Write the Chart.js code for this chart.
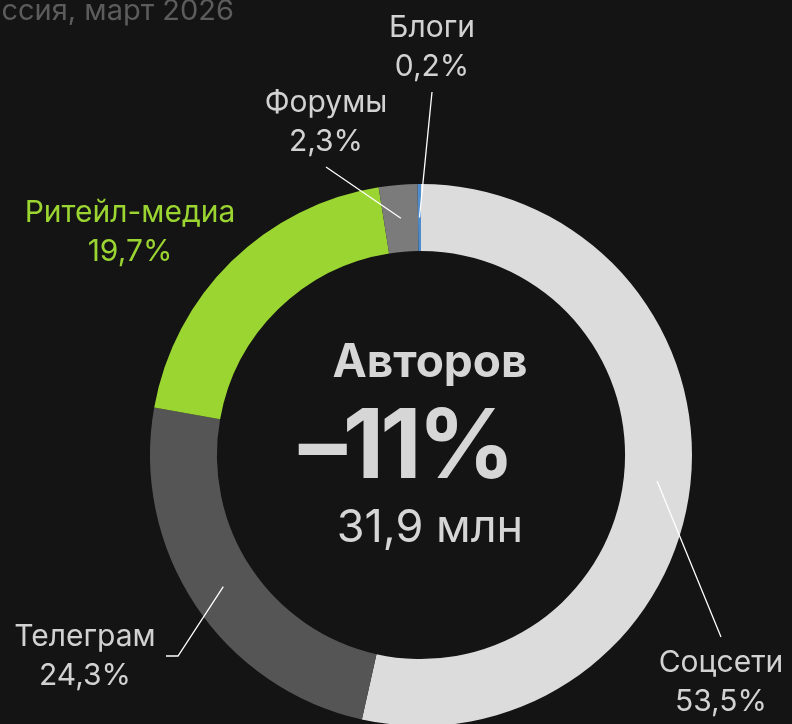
<!DOCTYPE html>
<html>
<head>
<meta charset="utf-8">
<script src="https://cdn.jsdelivr.net/npm/chart.js@4.4.1/dist/chart.umd.min.js"></script>
<style>
    html, body { margin: 0; padding: 0; background: #141414; overflow: hidden; }
    #wrap { width: 792px; height: 724px; overflow: hidden; position: relative; }
    canvas { display: block; }
</style>
</head>
<body>
<div id="wrap"><canvas id="authors" width="792" height="740"></canvas></div>
<script>
// Data
const categories = ['Соцсети', 'Телеграм', 'Ритейл-медиа', 'Форумы', 'Блоги'];
const shares = [53.5, 24.3, 19.7, 2.3, 0.2];
const shareLabels = ['53,5%', '24,3%', '19,7%', '2,3%', '0,2%'];
const sliceColors = ['#dcdcdc', '#555555', '#9bd531', '#7b7b7b', '#4e8ccb'];

const centerTitle = 'Авторов';
const centerChange = '–11%';
const centerTotal = '31,9 млн';
const subtitle = 'Россия, март 2026';

// Label placement (layout only): text centre and leader path after the slice anchor
const labelLayout = [
    { x: 721, y: 663, color: '#d2d2d2', path: [[721, 637]] },
    { x: 85, y: 637, color: '#d2d2d2', path: [[178, 656], [166, 656]] },
    { x: 130, y: 213, color: '#9bd531', path: null },
    { x: 326, y: 103, color: '#d2d2d2', path: [[326, 167]] },
    { x: 432, y: 28, color: '#d2d2d2', path: [[432, 92]] },
];

const FONT = 'Inter, "Noto Sans", sans-serif';

const annotations = {
    id: 'annotations',
    afterDraw(chart) {
        const ctx = chart.ctx;
        const arcs = chart.getDatasetMeta(0).data;
        ctx.save();

        // subtitle, clipped at the left edge
        ctx.fillStyle = '#5c5c5c';
        ctx.font = '29px ' + FONT;
        ctx.textAlign = 'right';
        ctx.textBaseline = 'alphabetic';
        ctx.fillText(subtitle, 234, 20);

        // leader lines
        ctx.strokeStyle = '#ffffff';
        ctx.lineWidth = 1.3;
        arcs.forEach((arc, i) => {
            const lay = labelLayout[i];
            if (!lay.path) return;
            const mid = (arc.startAngle + arc.endAngle) / 2;
            const r = (arc.innerRadius + arc.outerRadius) / 2;
            ctx.beginPath();
            ctx.moveTo(arc.x + Math.cos(mid) * r, arc.y + Math.sin(mid) * r);
            lay.path.forEach(p => ctx.lineTo(p[0], p[1]));
            ctx.stroke();
        });

        // slice labels
        ctx.textAlign = 'center';
        ctx.textBaseline = 'middle';
        ctx.font = '30px ' + FONT;
        categories.forEach((name, i) => {
            const lay = labelLayout[i];
            ctx.fillStyle = lay.color;
            ctx.fillText(name, lay.x, lay.y);
            ctx.fillText(shareLabels[i], lay.x, lay.y + 39);
        });

        // centre text
        ctx.fillStyle = '#d6d6d6';
        ctx.font = 'bold 46px ' + FONT;
        ctx.fillText(centerTitle, 430, 363);
        ctx.font = 'bold 96px ' + FONT;
        ctx.letterSpacing = '-4px';
        ctx.fillText(centerChange, 405, 449);
        ctx.letterSpacing = '0px';
        ctx.font = '45px ' + FONT;
        ctx.fillText(centerTotal, 430, 528);

        ctx.restore();
    }
};

new Chart(document.getElementById('authors'), {
    type: 'doughnut',
    data: {
        labels: categories,
        datasets: [{
            data: shares,
            backgroundColor: sliceColors,
            borderWidth: 0,
            hoverOffset: 0,
        }]
    },
    options: {
        responsive: false,
        animation: false,
        rotation: 0,
        cutout: '75.3%',
        layout: { padding: { left: 150, right: 100, top: 184, bottom: 14 } },
        plugins: {
            legend: { display: false },
            tooltip: { enabled: false }
        }
    },
    plugins: [annotations]
});
</script>
</body>
</html>
